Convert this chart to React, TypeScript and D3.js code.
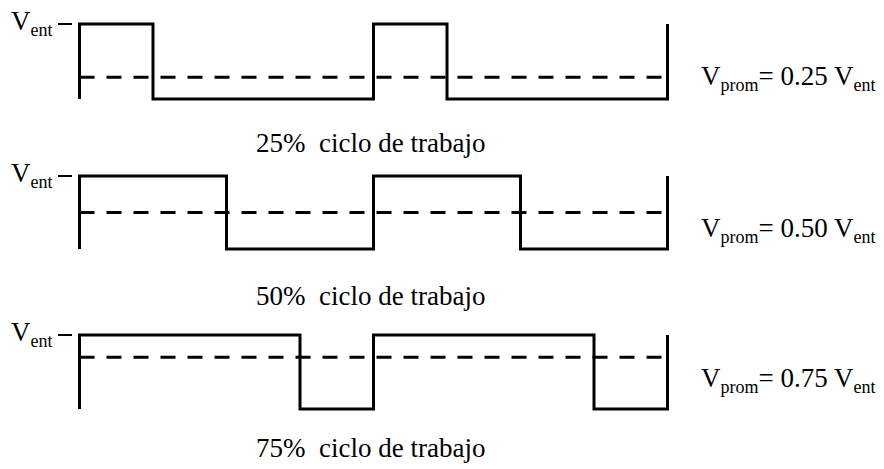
import React, { useEffect, useRef } from 'react'
import * as d3 from 'd3'

// duty cycle of each square wave (fraction of the period spent high)
const dutyCycles = [0.25, 0.5, 0.75]
// level of the dashed average line as drawn (fraction of V_ent)
const avgLevels = [0.29, 0.5, 0.7]
const dutyLabels = ['25%', '50%', '75%']
const avgLabels = ['0.25', '0.50', '0.75']
const periods = 2

const width = 884
const height = 469
const panels = [
  { top: 24, bottom: 99, label: 152, avg: 85 },
  { top: 176, bottom: 249, label: 305, avg: 237 },
  { top: 335, bottom: 409, label: 457, avg: 387 }
]
const font = '"Liberation Serif", "Times New Roman", serif'

const wavePoints = (d: number) => {
  const pts: [number, number][] = [[0, 0]]
  for (let k = 0; k < periods; k++) {
    pts.push([k, 1], [k + d, 1], [k + d, 0], [k + 1, 0])
  }
  pts.push([periods, 1])
  return pts
}

export default function App () {
  const ref = useRef<SVGSVGElement>(null)

  useEffect(() => {
    const svg = d3.select(ref.current)
    svg.selectAll('*').remove()

    const x = d3.scaleLinear().domain([0, periods]).range([79.5, 667.5])

    dutyCycles.forEach((d, i) => {
      const p = panels[i]
      const y = d3.scaleLinear().domain([0, 1]).range([p.bottom, p.top])
      const g = svg.append('g')

      const line = d3.line<[number, number]>().x(v => x(v[0])).y(v => y(v[1]))

      // average level
      g.append('path')
        .attr('d', line([[0, avgLevels[i]], [periods, avgLevels[i]]]))
        .attr('fill', 'none')
        .attr('stroke', '#000')
        .attr('stroke-width', 3)
        .attr('stroke-dasharray', '15,12')

      // square wave
      g.append('path')
        .attr('d', line(wavePoints(d)))
        .attr('fill', 'none')
        .attr('stroke', '#000')
        .attr('stroke-width', 3)
        .attr('stroke-linejoin', 'miter')

      // V_ent tick
      g.append('line')
        .attr('x1', 58).attr('x2', 72)
        .attr('y1', y(1)).attr('y2', y(1))
        .attr('stroke', '#000').attr('stroke-width', 2)

      const vent = g.append('text')
        .attr('x', 11).attr('y', y(1) + 6)
        .attr('font-family', font).attr('font-size', 27)
      vent.append('tspan').text('V')
      vent.append('tspan').attr('font-size', 18).attr('dy', 6).text('ent')

      const avg = g.append('text')
        .attr('x', 701).attr('y', p.avg)
        .attr('font-family', font).attr('font-size', 27)
      avg.append('tspan').text('V')
      avg.append('tspan').attr('font-size', 18).attr('dy', 6).text('prom')
      avg.append('tspan').attr('dy', -6).text('= ' + avgLabels[i] + ' V')
      avg.append('tspan').attr('font-size', 18).attr('dy', 6).text('ent')

      g.append('text')
        .attr('x', 256).attr('y', p.label)
        .attr('font-family', font).attr('font-size', 27)
        .attr('xml:space', 'preserve')
        .style('white-space', 'pre')
        .text(dutyLabels[i] + '  ciclo de trabajo')
    })
  }, [])

  return (
    <svg
      ref={ref}
      width={width}
      height={height}
      viewBox={`0 0 ${width} ${height}`}
      style={{ position: 'absolute', left: 0, top: 0, background: '#fff' }}
    />
  )
}
